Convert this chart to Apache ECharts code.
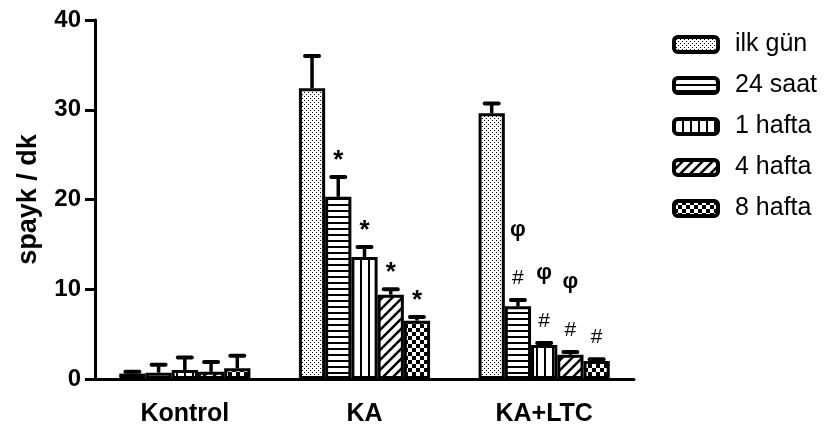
<!DOCTYPE html>
<html>
<head>
<meta charset="utf-8">
<script src="https://cdn.jsdelivr.net/npm/echarts@6/dist/echarts.min.js"></script>
<style>html,body{margin:0;padding:0;background:#fff}#c{width:827px;height:433px}</style>
</head>
<body>
<div id="c"></div>
<script>
// ---- data ----
const categories = ['Kontrol', 'KA', 'KA+LTC'];
const seriesNames = ['ilk gün', '24 saat', '1 hafta', '4 hafta', '8 hafta'];
const ilkGun = [0.6, 32.4, 29.6];
const ilkGunErr = [0.2, 3.6, 1.1];
const saat24 = [0.7, 20.3, 8.1];
const saat24Err = [0.9, 2.2, 0.7];
const hafta1 = [1.0, 13.6, 3.8];
const hafta1Err = [1.4, 1.1, 0.2];
const hafta4 = [0.8, 9.4, 2.7];
const hafta4Err = [1.1, 0.6, 0.3];
const hafta8 = [1.2, 6.5, 2.0];
const hafta8Err = [1.4, 0.4, 0.2];
const ilkGunMarks = ['', '', ''];
const saat24Marks = ['', '*', '#φ'];
const hafta1Marks = ['', '*', '#φ'];
const hafta4Marks = ['', '*', '#φ'];
const hafta8Marks = ['', '*', '#'];
const yMin = 0, yMax = 40, yInterval = 10;

const values = [ilkGun, saat24, hafta1, hafta4, hafta8];
const errs = [ilkGunErr, saat24Err, hafta1Err, hafta4Err, hafta8Err];
const marks = [ilkGunMarks, saat24Marks, hafta1Marks, hafta4Marks, hafta8Marks];

// ---- patterns ----
function makePattern(type) {
  const c = document.createElement('canvas');
  let w = 8, h = 8;
  if (type === 'dots') { w = 4; h = 4; }
  if (type === 'hlines') { w = 4; h = 6; }
  if (type === 'vlines') { w = 8; h = 4; }
  if (type === 'diag') { w = 10; h = 10; }
  if (type === 'check') { w = 8; h = 8; }
  c.width = w; c.height = h;
  const g = c.getContext('2d');
  g.fillStyle = '#fff'; g.fillRect(0, 0, w, h);
  g.fillStyle = '#000'; g.strokeStyle = '#000';
  if (type === 'dots') { g.fillRect(0, 0, 1, 1); g.fillRect(2, 2, 1, 1); }
  if (type === 'hlines') { g.fillRect(0, 0, w, 2); }
  if (type === 'vlines') { g.fillRect(0, 0, 2, h); }
  if (type === 'diag') {
    g.lineWidth = 2.5;
    g.beginPath();
    g.moveTo(-2, h + 2); g.lineTo(w + 2, -2);
    g.moveTo(-2 - w, h + 2); g.lineTo(2, -2);
    g.moveTo(w - 2, h + 2); g.lineTo(2 * w + 2, -2);
    g.stroke();
  }
  if (type === 'check') { g.fillRect(0, 0, 4, 4); g.fillRect(4, 4, 4, 4); }
  return { image: c, repeat: 'repeat' };
}
const patternTypes = ['dots', 'hlines', 'vlines', 'diag', 'check'];

const GAP = 0.27;
const N = seriesNames.length;

const errData = [];
const errMarks = [];
for (let s = 0; s < N; s++) {
  for (let i = 0; i < categories.length; i++) {
    errData.push([i, s, values[s][i], values[s][i] + errs[s][i]]);
    errMarks.push(marks[s][i]);
  }
}

const FONT = '"Liberation Sans", Arial, sans-serif';

const barSeries = seriesNames.map((name, s) => ({
  name: name,
  type: 'bar',
  data: values[s],
  barGap: '0%',
  barCategoryGap: (GAP * 100) + '%',
  itemStyle: { color: makePattern(patternTypes[s]), borderColor: '#000', borderWidth: 3 },
  emphasis: { disabled: true },
  z: 2
}));

const errSeries = {
  type: 'custom',
  data: errData,
  encode: { x: 0, y: 2 },
  z: 5,
  silent: true,
  renderItem: function (params, api) {
    const cat = api.value(0), s = api.value(1), v = api.value(2), top = api.value(3);
    const band = api.size([1, 0])[0];
    const groupW = band * (1 - GAP);
    const bw = groupW / N;
    const base = api.coord([cat, v]);
    const x = base[0] - groupW / 2 + (s + 0.5) * bw;
    const y0 = base[1];
    const y1 = api.coord([cat, top])[1];
    const children = [
      { type: 'line', shape: { x1: x, y1: y0, x2: x, y2: y1 }, style: { stroke: '#000', lineWidth: 3.5 } },
      { type: 'line', shape: { x1: x - 7, y1: y1, x2: x + 7, y2: y1 }, style: { stroke: '#000', lineWidth: 4, lineCap: 'round' } }
    ];
    const m = errMarks[params.dataIndex];
    if (m.indexOf('*') >= 0) {
      children.push({ type: 'text', x: x, y: y1 - 16, style: { text: '*', font: 'bold 26px ' + FONT, fill: '#000', align: 'center', verticalAlign: 'middle' } });
    }
    if (m.indexOf('#') >= 0) {
      children.push({ type: 'text', x: x, y: y1 - 22, style: { text: '#', font: '21px ' + FONT, fill: '#000', align: 'center', verticalAlign: 'middle' } });
    }
    if (m.indexOf('φ') >= 0) {
      children.push({ type: 'text', x: x, y: y1 - 70, style: { text: 'φ', font: 'bold 22px ' + FONT, fill: '#000', align: 'center', verticalAlign: 'middle' } });
    }
    return { type: 'group', children: children };
  }
};

const chart = echarts.init(document.getElementById('c'), null, { renderer: 'canvas' });
chart.setOption({
  animation: false,
  backgroundColor: '#fff',
  grid: { left: 95, right: 193, top: 20, bottom: 54, containLabel: false },
  legend: {
    data: seriesNames,
    orient: 'vertical',
    left: 667,
    top: 27,
    icon: 'roundRect',
    itemWidth: 44,
    itemHeight: 15,
    itemGap: 16,
    itemStyle: { borderColor: '#000', borderWidth: 4 },
    textStyle: { fontFamily: FONT, fontSize: 25, color: '#000', padding: [0, 0, 0, 12] },
    selectedMode: false
  },
  xAxis: {
    type: 'category',
    data: categories,
    axisLine: { lineStyle: { color: '#000', width: 3 } },
    axisTick: { alignWithLabel: true, length: 9, lineStyle: { color: '#000', width: 3 } },
    axisLabel: { color: '#000', fontFamily: FONT, fontWeight: 'bold', fontSize: 25, margin: 23 },
    splitLine: { show: false }
  },
  yAxis: {
    type: 'value',
    min: yMin, max: yMax, interval: yInterval,
    name: 'spayk / dk',
    nameLocation: 'middle',
    nameRotate: 90,
    nameGap: 53,
    nameTextStyle: { color: '#000', fontFamily: FONT, fontWeight: 'bold', fontSize: 27 },
    axisLine: { show: true, lineStyle: { color: '#000', width: 3 } },
    axisTick: { show: true, length: 10, lineStyle: { color: '#000', width: 3 } },
    axisLabel: { color: '#000', fontFamily: FONT, fontWeight: 'bold', fontSize: 24, margin: 14 },
    splitLine: { show: false }
  },
  series: barSeries.concat([errSeries])
});
</script>
</body>
</html>
